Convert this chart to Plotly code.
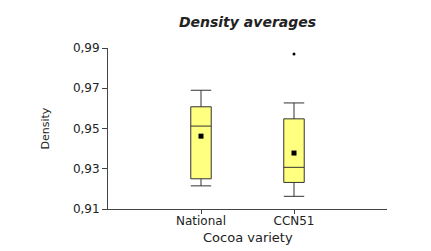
import plotly.graph_objects as go

categories = ["National", "CCN51"]
positions = [1, 2]
q1 = [0.9250, 0.9232]
median = [0.9512, 0.9307]
q3 = [0.9608, 0.9548]
lower_whisker = [0.9215, 0.9163]
upper_whisker = [0.9690, 0.9627]
means = [0.9462, 0.9378]
outlier_x = [2]
outlier_y = [0.9870]
y_ticks = [0.91, 0.93, 0.95, 0.97, 0.99]

FONT = "DejaVu Sans"
INK = "#222222"
W, H = 431, 251

fig = go.Figure()
fig.add_trace(go.Box(
    x=positions, q1=q1, median=median, q3=q3,
    lowerfence=lower_whisker, upperfence=upper_whisker,
    width=0.22, whiskerwidth=1,
    fillcolor="#FFFF80", line=dict(color="#333333", width=1),
    boxpoints=False, showlegend=False, hoverinfo="skip",
))
fig.add_trace(go.Scatter(
    x=positions, y=means, mode="markers",
    marker=dict(symbol="square", size=5, color="black"),
    showlegend=False, hoverinfo="skip",
))
fig.add_trace(go.Scatter(
    x=outlier_x, y=outlier_y, mode="markers",
    marker=dict(symbol="circle", size=3, color="black"),
    showlegend=False, hoverinfo="skip",
))

fig.update_layout(
    width=W, height=H,
    margin=dict(l=108, r=44, t=48, b=42, autoexpand=False),
    paper_bgcolor="white", plot_bgcolor="white",
    separators=",.",
    font=dict(family=FONT, color=INK),
    title=dict(
        text="<b><i>Density averages</i></b>",
        font=dict(family=FONT, size=14, color=INK),
        x=0.5, xref="paper", xanchor="center",
        y=1 - 22 / H, yref="container", yanchor="middle",
    ),
    xaxis=dict(
        range=[0, 3], tickvals=positions, ticktext=categories,
        showline=True, linecolor="#444444", linewidth=1,
        ticks="outside", ticklen=4, tickcolor="#444444",
        ticklabelstandoff=-3,
        showgrid=False, zeroline=False, automargin=False,
        tickfont=dict(family=FONT, size=12, color=INK),
    ),
    yaxis=dict(
        range=[0.91, 0.99], tickvals=y_ticks, tickformat=".2f",
        showline=True, linecolor="#444444", linewidth=1,
        ticks="outside", ticklen=5, tickcolor="#444444",
        showgrid=False, zeroline=False, automargin=False,
        tickfont=dict(family=FONT, size=12, color=INK),
    ),
    annotations=[
        dict(text="Cocoa variety", xref="paper", yref="paper",
             x=0.5, y=0, xanchor="center", yanchor="middle",
             yshift=-28, showarrow=False,
             font=dict(family=FONT, size=13, color=INK)),
        dict(text="Density", xref="paper", yref="paper",
             x=0, y=0.5, xanchor="center", yanchor="middle",
             xshift=-63, textangle=-90, showarrow=False,
             font=dict(family=FONT, size=11, color=INK)),
    ],
)

fig.write_html(
    "out.html",
    config={"displayModeBar": False},
    post_script="document.body.style.margin='0';document.body.style.padding='0';",
)
